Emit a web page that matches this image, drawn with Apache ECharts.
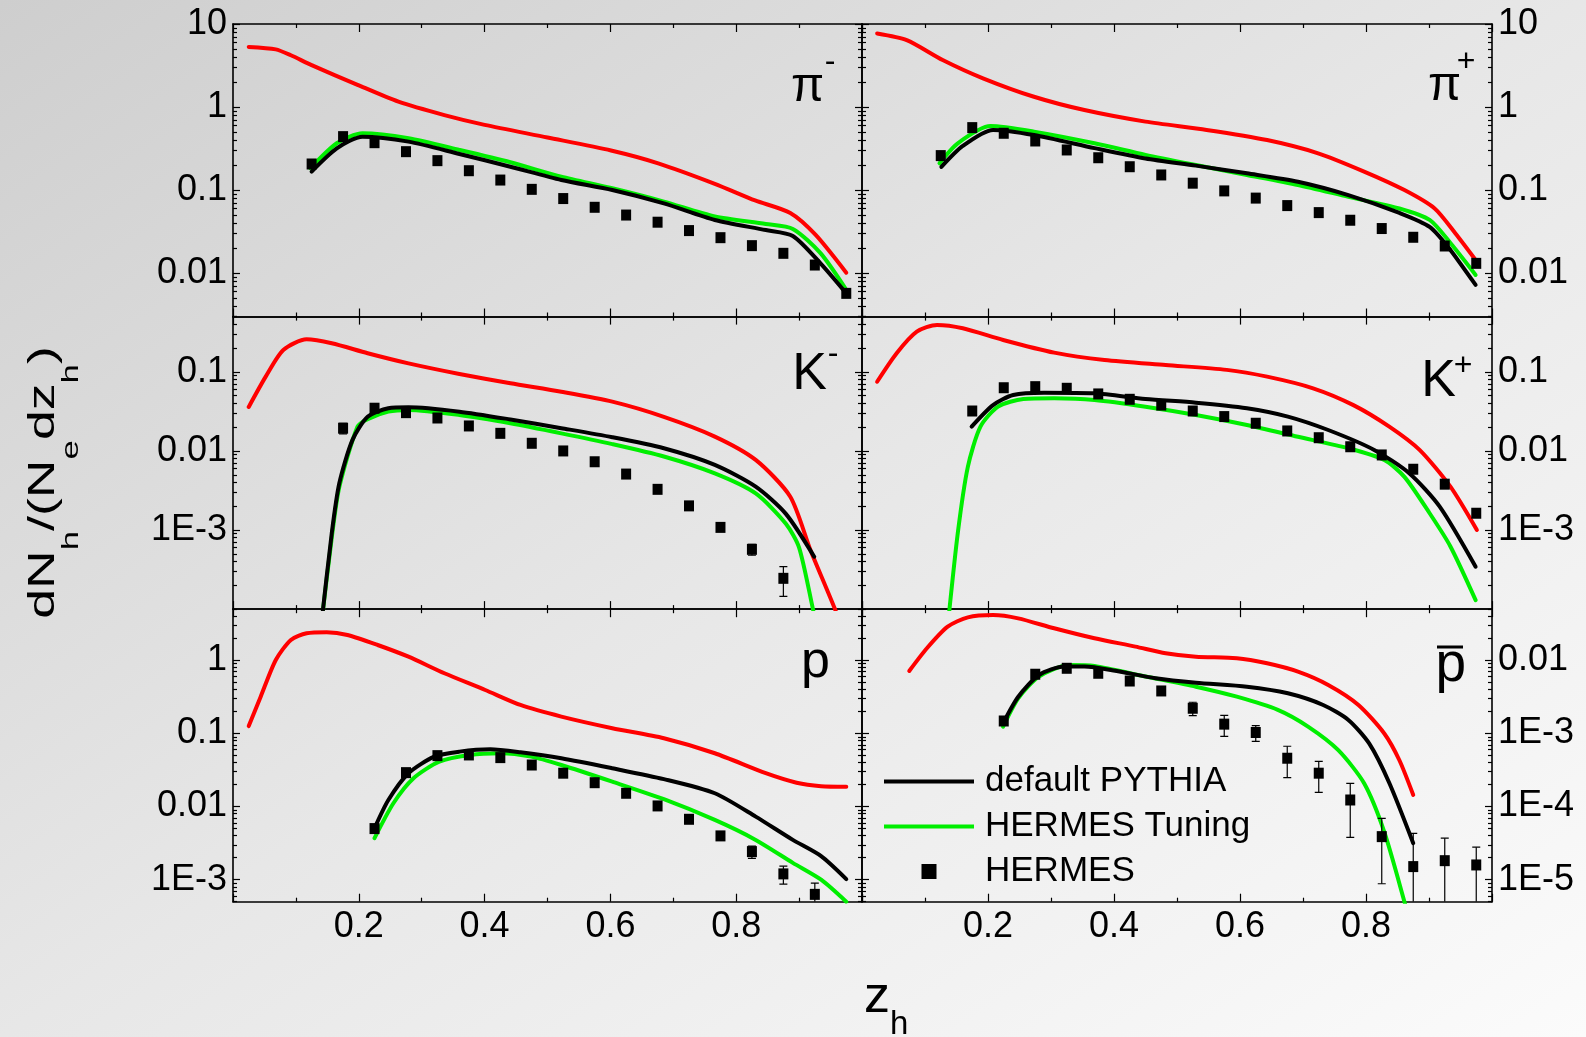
<!DOCTYPE html>
<html><head><meta charset="utf-8">
<script src="https://cdn.jsdelivr.net/npm/echarts@6/dist/echarts.min.js"></script>
<style>html,body{margin:0;padding:0;background:#fff}#c{width:1586px;height:1037px;}</style>
</head><body><div id="c"></div>
<script>
// ================= DATA =================
// x-axis tick labels (z_h) and y-axis decade tick labels per panel
const xTickLabels = [0.2, 0.4, 0.6, 0.8];
const yTicksPi = [0.01, 0.1, 1, 10];
const yTicksK = [0.001, 0.01, 0.1];
const yTicksP = [0.001, 0.01, 0.1, 1];
const yTicksPbar = [0.00001, 0.0001, 0.001, 0.01];

// ---- pi- ----
const piMRedZ = [0.025, 0.068, 0.092, 0.125, 0.198, 0.263, 0.336, 0.40, 0.50, 0.601, 0.676, 0.766, 0.830, 0.886, 0.926, 0.975];
const piMRedV = [5.3, 4.95, 4.2, 3.2, 1.85, 1.16, 0.80, 0.61, 0.43, 0.30, 0.21, 0.119, 0.075, 0.053, 0.029, 0.0101];
const piMGreenZ = [0.123, 0.165, 0.206, 0.279, 0.36, 0.441, 0.522, 0.603, 0.685, 0.766, 0.847, 0.89, 0.934, 0.975];
const piMGreenV = [0.183, 0.366, 0.483, 0.42, 0.304, 0.216, 0.145, 0.105, 0.0726, 0.048, 0.039, 0.034, 0.0174, 0.0063];
const piMBlackZ = [0.125, 0.165, 0.206, 0.279, 0.36, 0.441, 0.522, 0.603, 0.685, 0.766, 0.847, 0.89, 0.934, 0.975];
const piMBlackV = [0.167, 0.318, 0.44, 0.383, 0.272, 0.191, 0.132, 0.100, 0.069, 0.0436, 0.033, 0.028, 0.0131, 0.0057];
const piMDataZ = [0.125, 0.175, 0.225, 0.275, 0.325, 0.375, 0.425, 0.475, 0.525, 0.575, 0.625, 0.675, 0.725, 0.775, 0.825, 0.875, 0.925, 0.975];
const piMDataV = [0.206, 0.44, 0.372, 0.29, 0.226, 0.171, 0.132, 0.102, 0.079, 0.062, 0.050, 0.041, 0.0325, 0.0267, 0.0214, 0.0173, 0.0125, 0.0057];
const piMDataErr = [0, 0, 0, 0, 0, 0, 0, 0, 0, 0, 0, 0, 0, 0, 0, 0, 0, 0];

// ---- pi+ ----
const piPRedZ = [0.024, 0.071, 0.128, 0.192, 0.273, 0.353, 0.45, 0.547, 0.643, 0.724, 0.797, 0.861, 0.909, 0.942, 0.974];
const piPRedV = [7.7, 6.4, 3.69, 2.22, 1.33, 0.92, 0.667, 0.53, 0.40, 0.277, 0.167, 0.10, 0.060, 0.030, 0.0144];
const piPGreenZ = [0.123, 0.152, 0.204, 0.273, 0.369, 0.45, 0.53, 0.611, 0.692, 0.772, 0.853, 0.901, 0.934, 0.974];
const piPGreenV = [0.21, 0.366, 0.59, 0.505, 0.366, 0.265, 0.20, 0.152, 0.115, 0.083, 0.060, 0.0437, 0.023, 0.0095];
const piPBlackZ = [0.126, 0.16, 0.208, 0.273, 0.369, 0.45, 0.53, 0.611, 0.692, 0.772, 0.853, 0.901, 0.934, 0.974];
const piPBlackV = [0.19, 0.34, 0.53, 0.46, 0.32, 0.24, 0.197, 0.159, 0.126, 0.087, 0.053, 0.036, 0.019, 0.0072];
const piPDataZ = [0.125, 0.175, 0.225, 0.275, 0.325, 0.375, 0.425, 0.475, 0.525, 0.575, 0.625, 0.675, 0.725, 0.775, 0.825, 0.875, 0.925, 0.975];
const piPDataV = [0.26, 0.565, 0.483, 0.39, 0.304, 0.245, 0.191, 0.152, 0.121, 0.0977, 0.080, 0.065, 0.0535, 0.0433, 0.0344, 0.027, 0.0212, 0.0131];
const piPDataErr = [0, 0, 0, 0, 0, 0, 0, 0, 0, 0, 0, 0, 0, 0, 0, 0, 0, 0];

// ---- K- ----
const kMRedZ = [0.025, 0.052, 0.080, 0.117, 0.157, 0.214, 0.279, 0.36, 0.441, 0.522, 0.603, 0.685, 0.766, 0.831, 0.886, 0.918, 0.957, 0.97];
const kMRedV = [0.036, 0.087, 0.189, 0.258, 0.23, 0.172, 0.128, 0.094, 0.0717, 0.056, 0.042, 0.027, 0.0152, 0.0077, 0.00264, 0.00056, 0.0001, 0.00005];
const kMGreenZ = [0.140, 0.157, 0.169, 0.198, 0.214, 0.247, 0.279, 0.36, 0.441, 0.522, 0.603, 0.685, 0.766, 0.831, 0.879, 0.90, 0.922, 0.93];
const kMGreenV = [0.00006, 0.0008, 0.0035, 0.0203, 0.0252, 0.0314, 0.033, 0.0285, 0.0224, 0.0167, 0.0122, 0.0085, 0.0052, 0.0029, 0.0012, 0.0006, 0.0001, 0.00005];
const kMBlackZ = [0.140, 0.157, 0.169, 0.190, 0.214, 0.247, 0.279, 0.360, 0.441, 0.522, 0.603, 0.685, 0.766, 0.831, 0.879, 0.924];
const kMBlackV = [0.00006, 0.00091, 0.0039, 0.0138, 0.027, 0.0347, 0.0357, 0.0314, 0.025, 0.0194, 0.0149, 0.0108, 0.00665, 0.00353, 0.0016, 0.00046];
const kMDataZ = [0.175, 0.225, 0.275, 0.325, 0.375, 0.425, 0.475, 0.525, 0.575, 0.625, 0.675, 0.725, 0.775, 0.825, 0.875];
const kMDataV = [0.0194, 0.0347, 0.0305, 0.0261, 0.0207, 0.0167, 0.0125, 0.0100, 0.0073, 0.0051, 0.00327, 0.00202, 0.00108, 0.00057, 0.000245];
const kMDataErr = [0.003, 0, 0, 0, 0, 0, 0, 0, 0, 0, 0, 0, 0, 0.00009, 0.0001];

// ---- K+ ----
const kPRedZ = [0.024, 0.055, 0.087, 0.119, 0.16, 0.224, 0.305, 0.385, 0.482, 0.579, 0.643, 0.716, 0.78, 0.837, 0.885, 0.934, 0.976];
const kPRedV = [0.075, 0.172, 0.322, 0.392, 0.356, 0.253, 0.175, 0.141, 0.122, 0.106, 0.087, 0.062, 0.038, 0.0203, 0.0103, 0.00353, 0.001];
const kPGreenZ = [0.136, 0.152, 0.168, 0.188, 0.216, 0.256, 0.305, 0.369, 0.45, 0.53, 0.611, 0.692, 0.772, 0.829, 0.861, 0.901, 0.934, 0.974];
const kPGreenV = [0.00006, 0.00091, 0.0063, 0.0203, 0.0363, 0.0454, 0.0463, 0.0441, 0.0363, 0.0285, 0.0213, 0.0151, 0.0108, 0.0077, 0.0047, 0.00163, 0.00062, 0.00013];
const kPBlackZ = [0.174, 0.208, 0.24, 0.289, 0.369, 0.45, 0.53, 0.611, 0.676, 0.74, 0.813, 0.869, 0.917, 0.974];
const kPBlackV = [0.0203, 0.038, 0.051, 0.0546, 0.0536, 0.0454, 0.0408, 0.0347, 0.0272, 0.0184, 0.0103, 0.0052, 0.00198, 0.000344];
const kPDataZ = [0.175, 0.225, 0.275, 0.325, 0.375, 0.425, 0.475, 0.525, 0.575, 0.625, 0.675, 0.725, 0.775, 0.825, 0.875, 0.925, 0.975];
const kPDataV = [0.032, 0.063, 0.065, 0.062, 0.0526, 0.045, 0.038, 0.032, 0.0272, 0.0224, 0.0179, 0.0147, 0.0113, 0.0089, 0.00587, 0.0038, 0.00163];
const kPDataErr = [0, 0, 0, 0, 0, 0, 0, 0, 0, 0, 0, 0, 0, 0, 0, 0, 0];

// ---- p ----
const prRedZ = [0.025, 0.044, 0.068, 0.092, 0.117, 0.149, 0.182, 0.23, 0.279, 0.336, 0.401, 0.457, 0.522, 0.603, 0.685, 0.766, 0.847, 0.896, 0.935, 0.975];
const prRedV = [0.126, 0.318, 1.01, 1.9, 2.34, 2.42, 2.22, 1.62, 1.12, 0.665, 0.393, 0.245, 0.17, 0.118, 0.086, 0.0536, 0.0286, 0.0212, 0.019, 0.0187];
const prGreenZ = [0.225, 0.255, 0.287, 0.328, 0.376, 0.425, 0.474, 0.522, 0.603, 0.685, 0.766, 0.831, 0.89, 0.935, 0.975];
const prGreenV = [0.0037, 0.0111, 0.0244, 0.0411, 0.0508, 0.0536, 0.0482, 0.037, 0.0219, 0.0126, 0.00656, 0.0035, 0.0017, 0.001, 0.0005];
const prBlackZ = [0.225, 0.247, 0.279, 0.32, 0.36, 0.409, 0.457, 0.522, 0.603, 0.685, 0.766, 0.831, 0.89, 0.935, 0.975];
const prBlackV = [0.00506, 0.0123, 0.0286, 0.0482, 0.0564, 0.0608, 0.0553, 0.0458, 0.0334, 0.0237, 0.0152, 0.00728, 0.0035, 0.0021, 0.00102];
const prDataZ = [0.225, 0.275, 0.325, 0.375, 0.425, 0.475, 0.525, 0.575, 0.625, 0.675, 0.725, 0.775, 0.825, 0.875, 0.925];
const prDataV = [0.005, 0.0291, 0.0497, 0.0508, 0.0467, 0.037, 0.0286, 0.0212, 0.0152, 0.0102, 0.0067, 0.00397, 0.00242, 0.0012, 0.00063];
const prDataErr = [0, 0, 0, 0, 0, 0, 0, 0, 0, 0, 0, 0, 0.00046, 0.00033, 0.00027];

// ---- p-bar ----
const pbRedZ = [0.075, 0.103, 0.136, 0.168, 0.208, 0.248, 0.305, 0.369, 0.434, 0.482, 0.53, 0.595, 0.643, 0.692, 0.74, 0.788, 0.829, 0.853, 0.875];
const pbRedV = [0.00714, 0.0146, 0.0288, 0.0387, 0.0417, 0.0375, 0.0274, 0.02, 0.0154, 0.0125, 0.0112, 0.0107, 0.0091, 0.007, 0.0046, 0.00245, 0.001, 0.00043, 0.000144];
const pbGreenZ = [0.224, 0.248, 0.281, 0.329, 0.369, 0.45, 0.53, 0.595, 0.66, 0.708, 0.756, 0.797, 0.829, 0.861, 0.87];
const pbGreenV = [0.00124, 0.00303, 0.006, 0.00863, 0.00836, 0.006, 0.00436, 0.00318, 0.0021, 0.00124, 0.00059, 0.000208, 0.000045, 0.000005, 0.0000025];
const pbBlackZ = [0.224, 0.248, 0.281, 0.321, 0.353, 0.402, 0.466, 0.53, 0.611, 0.676, 0.732, 0.772, 0.805, 0.837, 0.875];
const pbBlackV = [0.00138, 0.00318, 0.0063, 0.0082, 0.0082, 0.0072, 0.0057, 0.00494, 0.00436, 0.00354, 0.00245, 0.00153, 0.00073, 0.00021, 0.0000315];
const pbDataZ = [0.225, 0.275, 0.325, 0.375, 0.425, 0.475, 0.525, 0.575, 0.625, 0.675, 0.725, 0.775, 0.825, 0.875, 0.925, 0.975];
const pbDataV = [0.00148, 0.00645, 0.00778, 0.00665, 0.00521, 0.00381, 0.00221, 0.00134, 0.00103, 0.000458, 0.000286, 0.000123, 0.0000388, 0.0000151, 0.0000182, 0.0000159];
const pbDataErr = [0, 0, 0, 0, 0, 0, 0.00046, 0.00043, 0.00025, 0.00021, 0.00013, 0.000085, 0.00003, 0.000028, 0.0000187, 0.0000119];

// ================= LAYOUT / STYLE =================
const F = "'Liberation Sans', Arial, Helvetica, sans-serif";
const RED = '#ff0000', GREEN = '#00ee00', BLACK = '#000000';
const colLeft = [233, 862], colWidth = [629, 630];
const rowTop = [24, 316.6, 609.2], rowH = 292.5;

const panels = [
  {col: 0, row: 0, yMin: 0.003, yMax: 10, majors: yTicksPi,
   red: [piMRedZ, piMRedV], green: [piMGreenZ, piMGreenV], black: [piMBlackZ, piMBlackV], pts: [piMDataZ, piMDataV, piMDataErr]},
  {col: 1, row: 0, yMin: 0.003, yMax: 10, majors: yTicksPi,
   red: [piPRedZ, piPRedV], green: [piPGreenZ, piPGreenV], black: [piPBlackZ, piPBlackV], pts: [piPDataZ, piPDataV, piPDataErr]},
  {col: 0, row: 1, yMin: 0.0001, yMax: 0.5, majors: yTicksK,
   red: [kMRedZ, kMRedV], green: [kMGreenZ, kMGreenV], black: [kMBlackZ, kMBlackV], pts: [kMDataZ, kMDataV, kMDataErr]},
  {col: 1, row: 1, yMin: 0.0001, yMax: 0.5, majors: yTicksK,
   red: [kPRedZ, kPRedV], green: [kPGreenZ, kPGreenV], black: [kPBlackZ, kPBlackV], pts: [kPDataZ, kPDataV, kPDataErr]},
  {col: 0, row: 2, yMin: 0.0005, yMax: 5, majors: yTicksP,
   red: [prRedZ, prRedV], green: [prGreenZ, prGreenV], black: [prBlackZ, prBlackV], pts: [prDataZ, prDataV, prDataErr]},
  {col: 1, row: 2, yMin: 0.000005, yMax: 0.05, majors: yTicksPbar,
   red: [pbRedZ, pbRedV], green: [pbGreenZ, pbGreenV], black: [pbBlackZ, pbBlackV], pts: [pbDataZ, pbDataV, pbDataErr]}
];

function logMinors(min, max) {
  const out = [];
  for (let e = Math.floor(Math.log10(min)) - 1; e <= Math.ceil(Math.log10(max)); e++) {
    for (let d = 2; d <= 9; d++) {
      const v = +(d * Math.pow(10, e)).toPrecision(6);
      if (v >= min * 0.9999 && v <= max * 1.0001) out.push(v);
    }
  }
  return out;
}
function fmtLog(v) {
  const e = Math.round(Math.log10(v));
  if (e >= 0) return String(Math.pow(10, e));
  if (e >= -2) return Math.pow(10, e).toFixed(-e);
  return '1E' + e;
}
function pairs(zs, vs) { return zs.map((z, k) => [z, vs[k]]); }

const axLine = {color: '#000', width: 1.6};
const tickLine = {color: '#000', width: 1.2};
const labelStyle = {fontSize: 36, fontFamily: F, color: '#000'};

const grids = [], xAxes = [], yAxes = [], series = [];
panels.forEach((p, i) => {
  grids.push({left: colLeft[p.col], top: rowTop[p.row], width: colWidth[p.col], height: rowH, containLabel: false});
  const xBase = {
    type: 'value', gridIndex: i, min: 0, max: 1, interval: 0.2,
    axisLine: {show: true, onZero: false, lineStyle: axLine},
    axisTick: {show: true, inside: true, length: 8, lineStyle: tickLine},
    minorTick: {show: true, splitNumber: 2, length: 4, lineStyle: tickLine},
    splitLine: {show: false}, minorSplitLine: {show: false}
  };
  xAxes.push(Object.assign({}, xBase, {
    position: 'bottom',
    axisLabel: p.row === 2 ? Object.assign({show: true, customValues: xTickLabels, margin: 7,
      formatter: v => Number(v).toFixed(1)}, labelStyle) : {show: false}
  }));
  xAxes.push(Object.assign({}, xBase, {position: 'top', axisLabel: {show: false}}));
  const minors = logMinors(p.yMin, p.yMax);
  ['left', 'right'].forEach(side => {
    const showLbl = (side === 'left') === (p.col === 0);
    yAxes.push({
      type: 'log', logBase: 10, gridIndex: i, position: side, min: p.yMin, max: p.yMax,
      axisLine: {show: true, onZero: false, lineStyle: axLine},
      axisTick: {show: true, inside: true, length: 7, customValues: p.majors, lineStyle: tickLine},
      axisLabel: showLbl ? Object.assign({show: true, customValues: p.majors, margin: 6, formatter: fmtLog}, labelStyle) : {show: false},
      splitLine: {show: false}, minorTick: {show: false}
    });
    yAxes.push({
      type: 'log', logBase: 10, gridIndex: i, position: side, min: p.yMin, max: p.yMax,
      axisLine: {show: false, onZero: false},
      axisTick: {show: true, inside: true, length: 4, customValues: minors, lineStyle: tickLine},
      axisLabel: {show: false}, splitLine: {show: false}, minorTick: {show: false}
    });
  });
  const common = {xAxisIndex: 2 * i, yAxisIndex: 4 * i, silent: true, animation: false};
  const mkLine = (name, color, zv, z) => Object.assign({
    type: 'line', name, data: pairs(zv[0], zv[1]), symbol: 'none', showSymbol: false,
    smooth: 0.25, clip: true, lineStyle: {color, width: 4, cap: 'round', join: 'round'}, itemStyle: {color}, z
  }, common);
  series.push(mkLine('PYTHIA (other)', RED, p.red, 2));
  series.push(mkLine('HERMES Tuning', GREEN, p.green, 3));
  series.push(mkLine('default PYTHIA', BLACK, p.black, 4));
  const [dz, dv, de] = p.pts;
  const errData = [];
  dz.forEach((z, k) => {
    if (de[k] > 0) errData.push([z, dv[k], Math.max(dv[k] - de[k], 1e-12), dv[k] + de[k]]);
  });
  series.push(Object.assign({
    type: 'custom', name: 'HERMES errors', data: errData, z: 5, clip: true,
    encode: {x: 0, y: 1},
    renderItem: function (params, api) {
      const x = api.value(0);
      const top = api.coord([x, api.value(3)]);
      const bot = api.coord([x, api.value(2)]);
      const cs = params.coordSys;
      const y0 = cs.y, y1 = cs.y + cs.height;
      const yt = Math.max(top[1], y0), yb = Math.min(bot[1], y1);
      const st = {stroke: '#000', lineWidth: 1.2};
      const ch = [{type: 'line', shape: {x1: top[0], y1: yt, x2: top[0], y2: yb}, style: st}];
      if (top[1] >= y0) ch.push({type: 'line', shape: {x1: top[0] - 4, y1: yt, x2: top[0] + 4, y2: yt}, style: st});
      if (bot[1] <= y1) ch.push({type: 'line', shape: {x1: bot[0] - 4, y1: yb, x2: bot[0] + 4, y2: yb}, style: st});
      return {type: 'group', children: ch};
    }
  }, common));
  series.push(Object.assign({
    type: 'scatter', name: 'HERMES', data: pairs(dz, dv), symbol: 'rect', symbolSize: [10, 11],
    itemStyle: {color: '#000', opacity: 1}, z: 6
  }, common));
});

const lineIcon = 'path://M0,0M0,5.5L90,5.5L90,9.5L0,9.5ZM90,15';
const sqIcon = 'path://M0,0M37.5,0L52.5,0L52.5,15L37.5,15ZM90,15';

function txt(text, x, y, size, align, extra) {
  return Object.assign({type: 'text', x, y, z: 100, silent: true,
    style: {text, fontSize: size, fontFamily: F, fill: '#000', align, verticalAlign: 'middle'}}, extra || {});
}

const graphics = [
  // panel labels
  txt('\u03c0', 824, 87.5, 48, 'right'), txt('-', 830, 62.5, 32, 'center'),
  txt('\u03c0', 1461, 86.7, 48, 'right'), txt('+', 1466, 62.5, 32, 'center'),
  txt('K', 827, 375, 52, 'right'), txt('-', 833, 354.5, 32, 'center'),
  txt('K', 1456, 381.5, 52, 'right'), txt('+', 1463, 366, 32, 'center'),
  txt('p', 830, 663, 52, 'right'),
  txt('p', 1466, 666, 55, 'right'),
  {type: 'rect', z: 100, silent: true, shape: {x: 1437, y: 645.5, width: 26, height: 3}, style: {fill: '#000'}},
  // y axis title
  {type: 'text', x: 25, y: 482.5, rotation: Math.PI / 2, scaleX: 1.45, z: 100, silent: true,
   style: {text: '{m|dN}{s|h}{m|/(N}{s|e}{m|dz}{s|h}{m|)}', align: 'center', verticalAlign: 'top',
     rich: {
       m: {fontSize: 37, fontFamily: F, lineHeight: 40, verticalAlign: 'top', fill: '#000'},
       s: {fontSize: 24, fontFamily: F, lineHeight: 24, verticalAlign: 'top', padding: [34, 0, 0, 0], fill: '#000'}
     }}},
  // x axis title
  {type: 'text', x: 864, y: 971.7, z: 100, silent: true,
   style: {text: '{m|z}{s|h}', align: 'left', verticalAlign: 'top',
     rich: {
       m: {fontSize: 52, fontFamily: F, lineHeight: 52, verticalAlign: 'top', fill: '#000'},
       s: {fontSize: 33, fontFamily: F, lineHeight: 33, verticalAlign: 'top', padding: [37, 0, 0, 0], fill: '#000'}
     }}}
];

const chart = echarts.init(document.getElementById('c'), null, {renderer: 'canvas'});
chart.setOption({
  animation: false,
  backgroundColor: {type: 'linear', x: 0, y: 0, x2: 0.6, y2: 1.4,
    colorStops: [{offset: 0, color: '#cecece'}, {offset: 0.5, color: '#e7e7e7'}, {offset: 1, color: '#fbfbfb'}]},
  grid: grids,
  xAxis: xAxes,
  yAxis: yAxes,
  legend: {
    show: true, orient: 'vertical', left: 884, top: 764, padding: 0, itemGap: 10,
    itemWidth: 90, itemHeight: 15, selectedMode: false, symbolKeepAspect: true,
    textStyle: {fontSize: 35, fontFamily: F, color: '#000', padding: [0, 0, 0, 6]},
    data: [
      {name: 'default PYTHIA', icon: lineIcon, itemStyle: {color: BLACK, borderWidth: 0}},
      {name: 'HERMES Tuning', icon: lineIcon, itemStyle: {color: GREEN, borderWidth: 0}},
      {name: 'HERMES', icon: sqIcon, itemStyle: {color: BLACK, borderWidth: 0}}
    ]
  },
  graphic: graphics,
  series: series
});
</script>
</body></html>
